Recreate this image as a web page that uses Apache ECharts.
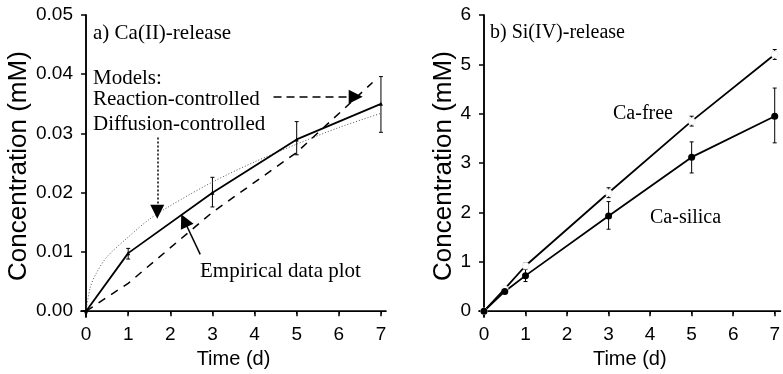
<!DOCTYPE html>
<html>
<head>
<meta charset="utf-8">
<script src="https://cdn.jsdelivr.net/npm/echarts@6/dist/echarts.min.js"></script>
<style>
  html, body { margin: 0; padding: 0; background: #fff; }
  #chart { width: 783px; height: 374px; }
</style>
</head>
<body>
<div id="chart"></div>
<script>
// panel a: Ca(II) release
const caDays = [0, 1, 3, 5, 7];
const caEmpirical = [0, 0.0098, 0.0200, 0.0290, 0.0350];
const caErrLow = [null, 0.0088, 0.0176, 0.0264, 0.0302];
const caErrHigh = [null, 0.0106, 0.0226, 0.0320, 0.0396];
const reactDays = [0, 1, 3, 5, 6.8];
const reactVals = [0, 0.0047, 0.0167, 0.0268, 0.0386];
const diffDays = [0, 0.1, 0.25, 0.5, 1, 1.5, 2, 3, 4, 5, 6, 7];
const diffVals = [0, 0.004, 0.0065, 0.0092, 0.0125, 0.0155, 0.0178, 0.0218, 0.0252, 0.0282, 0.031, 0.0334];

// panel b: Si(IV) release
const siDays = [0, 0.5, 1, 3, 5, 7];
const caFree = [0, 0.45, 0.92, 2.4, 3.85, 5.2];
const caSilica = [0, 0.4, 0.72, 1.93, 3.12, 3.95];
const silicaErrLow = [null, null, 0.6, 1.66, 2.8, 3.41];
const silicaErrHigh = [null, null, 0.9, 2.22, 3.43, 4.52];
const freeErrLow = [null, null, 0.85, 2.3, 3.75, 5.1];
const freeErrHigh = [null, null, 0.98, 2.5, 3.95, 5.3];

const xTicks = [0, 1, 2, 3, 4, 5, 6, 7];
const caTicks = [0, 0.01, 0.02, 0.03, 0.04, 0.05];
const siTicks = [0, 1, 2, 3, 4, 5, 6];

const myChart = echarts.init(document.getElementById('chart'));

const zip = (xs, ys) => xs.map((x, i) => [x, ys[i]]);
const errData = (xs, lo, hi) => xs.map((x, i) => [x, lo[i], hi[i]]).filter(d => d[1] != null);

const sans = "'Liberation Sans', Arial, sans-serif";
const serif = "'Liberation Serif', 'Times New Roman', serif";

function errorBars(xIdx, yIdx, data) {
    return {
        type: 'custom',
        xAxisIndex: xIdx,
        yAxisIndex: yIdx,
        data: data,
        z: 3,
        renderItem: function (params, api) {
            const top = api.coord([api.value(0), api.value(2)]);
            const bot = api.coord([api.value(0), api.value(1)]);
            const style = {stroke: '#000', lineWidth: 1};
            return {
                type: 'group',
                children: [
                    {type: 'line', shape: {x1: top[0], y1: top[1], x2: bot[0], y2: bot[1]}, style: style},
                    {type: 'line', shape: {x1: top[0] - 2, y1: top[1], x2: top[0] + 2, y2: top[1]}, style: style},
                    {type: 'line', shape: {x1: bot[0] - 2, y1: bot[1], x2: bot[0] + 2, y2: bot[1]}, style: style},
                ],
            };
        },
    };
}

function bottomAxis(grid, min, max) {
    return {
        type: 'value', gridIndex: grid, position: 'bottom', min: min, max: max,
        name: 'Time (d)', nameLocation: 'middle', nameGap: 30,
        nameTextStyle: {fontFamily: sans, fontSize: 20, color: '#000'},
        axisLine: {show: true, lineStyle: {color: '#000', width: 1.5}},
        axisTick: {show: true, length: 5, customValues: xTicks, lineStyle: {color: '#000', width: 1.5}},
        axisLabel: {customValues: xTicks, margin: 8, fontFamily: sans, fontSize: 19, color: '#000'},
        splitLine: {show: false},
    };
}

function topAxis(grid, min, max) {
    return {
        type: 'value', gridIndex: grid, position: 'top', min: min, max: max,
        axisLine: {show: true, lineStyle: {color: '#000', width: 1}},
        axisTick: {show: true, inside: true, length: 3, customValues: xTicks, lineStyle: {color: '#000'}},
        axisLabel: {show: false},
        splitLine: {show: false},
    };
}

function leftAxis(grid, min, max, ticks, gap, fmt) {
    return {
        type: 'value', gridIndex: grid, position: 'left', min: min, max: max,
        name: 'Concentration (mM)', nameLocation: 'middle', nameGap: gap,
        nameTextStyle: {fontFamily: sans, fontSize: 26, color: '#000'},
        axisLine: {show: true, lineStyle: {color: '#000', width: 1.5}},
        axisTick: {show: true, length: 5, customValues: ticks, lineStyle: {color: '#000', width: 1.5}},
        axisLabel: {customValues: ticks, margin: 8, fontFamily: sans, fontSize: 19, color: '#000', formatter: fmt},
        splitLine: {show: false},
    };
}

function rightAxis(grid, min, max) {
    return {
        type: 'value', gridIndex: grid, position: 'right', min: min, max: max,
        axisLine: {show: true, lineStyle: {color: '#000', width: 1.5}},
        axisTick: {show: false},
        axisLabel: {show: false},
        splitLine: {show: false},
    };
}

const option = {
    backgroundColor: '#fff',
    animation: false,
    grid: [
        {left: 81, top: 15, width: 305, height: 303},
        {left: 479, top: 15, width: 306, height: 303},
    ],
    xAxis: [
        bottomAxis(0, -0.12, 7.12),
        topAxis(0, -0.12, 7.12),
        bottomAxis(1, -0.12, 7.14),
        topAxis(1, -0.12, 7.14),
    ],
    yAxis: [
        leftAxis(0, -0.001, 0.05, caTicks, 48, v => v.toFixed(2)),
        rightAxis(0, -0.001, 0.05),
        leftAxis(1, -0.12, 6, siTicks, 18, v => String(v)),
        rightAxis(1, -0.12, 6),
    ],
    graphic: [
        {type: 'text', left: 93, top: 23, style: {text: 'a) Ca(II)-release', font: '21px ' + serif, fill: '#000'}},
        {type: 'text', left: 93, top: 68, style: {text: 'Models:', font: '21px ' + serif, fill: '#000'}},
        {type: 'text', left: 93, top: 89, style: {text: 'Reaction-controlled', font: '21px ' + serif, fill: '#000'}},
        {type: 'text', left: 93, top: 114, style: {text: 'Diffusion-controlled', font: '21px ' + serif, fill: '#000'}},
        {type: 'text', left: 200, top: 261, style: {text: 'Empirical data plot', font: '21px ' + serif, fill: '#000'}},
        {type: 'text', left: 490, top: 23, style: {text: 'b) Si(IV)-release', font: '20px ' + serif, fill: '#000'}},
        {type: 'text', left: 613, top: 104, style: {text: 'Ca-free', font: '20px ' + serif, fill: '#000'}},
        {type: 'text', left: 650, top: 208, style: {text: 'Ca-silica', font: '20px ' + serif, fill: '#000'}},
    ],
    series: [
        {
            name: 'Diffusion-controlled', type: 'line', xAxisIndex: 0, yAxisIndex: 0,
            data: zip(diffDays, diffVals), smooth: 0.3, showSymbol: false,
            lineStyle: {color: '#555', width: 1, type: [1, 2]},
            markLine: {
                silent: true, symbol: ['none', 'triangle'], symbolSize: [14, 14],
                lineStyle: {color: '#000', width: 1.5, type: [2, 2]}, label: {show: false},
                data: [[{coord: [1.69, 0.0293]}, {coord: [1.69, 0.0168]}]],
            },
        },
        {
            name: 'Reaction-controlled', type: 'line', xAxisIndex: 0, yAxisIndex: 0,
            data: zip(reactDays, reactVals), showSymbol: false,
            lineStyle: {color: '#000', width: 1.5, type: [8, 7]},
            markLine: {
                silent: true, symbol: ['none', 'triangle'], symbolSize: [14, 14],
                lineStyle: {color: '#000', width: 1.5, type: [8, 5]}, label: {show: false},
                data: [[{coord: [4.45, 0.0362]}, {coord: [6.4, 0.0362]}]],
            },
        },
        {
            name: 'Empirical', type: 'line', xAxisIndex: 0, yAxisIndex: 0,
            data: zip(caDays, caEmpirical), symbol: 'triangle', symbolSize: 4,
            itemStyle: {color: '#000'},
            lineStyle: {color: '#000', width: 1.8},
            markLine: {
                silent: true, symbol: ['none', 'triangle'], symbolSize: [14, 14],
                lineStyle: {color: '#000', width: 1.5, type: 'solid'}, label: {show: false},
                data: [[{coord: [2.71, 0.0096]}, {coord: [2.33, 0.0153]}]],
            },
        },
        errorBars(0, 0, errData(caDays, caErrLow, caErrHigh)),
        {
            name: 'Ca-free', type: 'line', xAxisIndex: 2, yAxisIndex: 2,
            data: zip(siDays, caFree), symbol: 'circle', symbolSize: 7,
            itemStyle: {color: '#fff', borderColor: '#ddd', borderWidth: 0.5},
            lineStyle: {color: '#000', width: 1.8}, z: 4,
        },
        {
            name: 'Ca-silica', type: 'line', xAxisIndex: 2, yAxisIndex: 2,
            data: zip(siDays, caSilica), symbol: 'circle', symbolSize: 7,
            itemStyle: {color: '#000'},
            lineStyle: {color: '#000', width: 1.8}, z: 4,
        },
        errorBars(2, 2, errData(siDays, silicaErrLow, silicaErrHigh)),
        errorBars(2, 2, errData(siDays, freeErrLow, freeErrHigh)),
    ],
};
myChart.setOption(option);
</script>
</body>
</html>
